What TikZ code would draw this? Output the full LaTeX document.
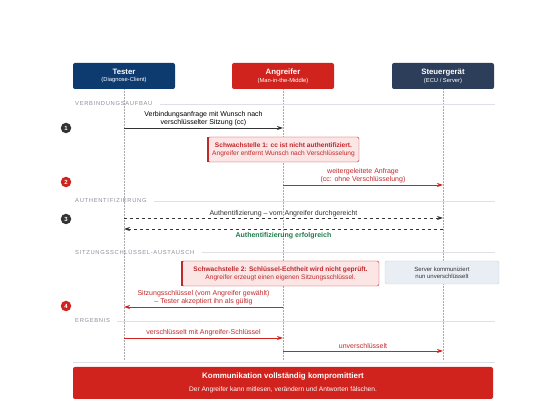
\documentclass[tikz,border=0pt]{standalone}
\usepackage{fontspec}
\setmainfont{Liberation Sans}
\newfontfamily\secfont[LetterSpace=12]{Liberation Sans}
\usetikzlibrary{arrows.meta}

\definecolor{testerblue}{HTML}{0D3B70}
\definecolor{attackred}{HTML}{D0231E}
\definecolor{ecuslate}{HTML}{2C3E5A}
\definecolor{weakfill}{HTML}{FBE5E5}
\definecolor{weakline}{HTML}{C0282B}
\definecolor{sepgray}{HTML}{DDE0E4}
\definecolor{lifegray}{HTML}{A8A8A8}
\definecolor{secgray}{HTML}{8A8F99}
\definecolor{okgreen}{HTML}{1E7A4A}
\definecolor{infofill}{HTML}{E9EEF4}
\definecolor{infoline}{HTML}{C9D1DC}
\definecolor{msgdark}{HTML}{333333}

\begin{document}
\begin{tikzpicture}[x=1pt, y=-1pt,
    actor/.style={rounded corners=2pt, minimum width=102pt, minimum height=26pt,
      align=center, text=white, inner sep=0pt, font=\fontsize{7.8}{8.8}\selectfont\bfseries},
    lifeline/.style={lifegray, densely dotted, line width=0.5pt},
    section/.style={anchor=west, text=secgray, inner sep=0pt, font=\secfont\fontsize{5.8}{6.5}\selectfont},
    sepline/.style={sepgray, line width=0.6pt},
    stepdot/.style={circle, inner sep=0pt, minimum size=10.5pt, text=white,
      font=\fontsize{6}{6}\selectfont\bfseries},
    msg/.style={-{Stealth[length=6pt, width=4pt]}, line width=0.8pt},
    lbl/.style={anchor=south, align=center, inner sep=1pt, font=\fontsize{7}{8}\selectfont},
    weak/.style={draw=weakline, fill=weakfill, rounded corners=1.5pt, align=center,
      text=weakline, font=\fontsize{6.6}{8}\selectfont, inner sep=1.5pt}]

    \useasboundingbox (0,0) rectangle (539,403);

    % teilnehmer
    \node[actor, fill=testerblue] (tester) at (124,76)
      {Tester\\[-1pt]{\fontsize{5.8}{6.5}\selectfont\mdseries (Diagnose-Client)}};
    \node[actor, fill=attackred] (angreifer) at (283,76)
      {Angreifer\\[-1pt]{\fontsize{5.8}{6.5}\selectfont\mdseries (Man-in-the-Middle)}};
    \node[actor, fill=ecuslate] (ecu) at (443,76)
      {Steuergerät\\[-1pt]{\fontsize{5.8}{6.5}\selectfont\mdseries (ECU / Server)}};

    \coordinate (tend) at (124,360);
    \coordinate (aend) at (283,360);
    \coordinate (eend) at (443,360);
    \draw[lifeline] (tester.south) -- (tend);
    \draw[lifeline] (angreifer.south) -- (aend);
    \draw[lifeline] (ecu.south) -- (eend);

    % abschnitte
    \coordinate (rt) at (495,0);
    \node[section] (sec1) at (75,104) {VERBINDUNGSAUFBAU};
    \node[section] (sec2) at (75,201) {AUTHENTIFIZIERUNG};
    \node[section] (sec3) at (75,252) {SITZUNGSSCHLÜSSEL-AUSTAUSCH};
    \node[section] (sec4) at (75,321) {ERGEBNIS};
    \draw[sepline] ([xshift=7pt]sec1.east) -- (sec1.east -| rt);
    \draw[sepline] ([xshift=7pt]sec2.east) -- (sec2.east -| rt);
    \draw[sepline] ([xshift=7pt]sec3.east) -- (sec3.east -| rt);
    \draw[sepline] ([xshift=7pt]sec4.east) -- (sec4.east -| rt);
    \coordinate (bl) at (73,362);
    \draw[sepline, line width=0.4pt] (bl) -- (bl -| rt);

    % schritte
    \node[stepdot, fill=msgdark] (n1) at (66,128) {1};
    \node[stepdot, fill=attackred] (n2) at (66,182) {2};
    \node[stepdot, fill=msgdark] (n3) at (66,219) {3};
    \node[stepdot, fill=attackred] (n4) at (66,306) {4};

    % punkte auf den lebenslinien
    \coordinate (t1) at (124,128);  \coordinate (a1) at (283,128);
    \coordinate (a2) at (283,185);  \coordinate (e2) at (443,185);
    \coordinate (t3) at (124,218);  \coordinate (e3) at (443,218);
    \coordinate (t3r) at (124,229); \coordinate (e3r) at (443,229);
    \coordinate (t4) at (124,307);  \coordinate (a4) at (283,307);
    \coordinate (t5) at (124,338);  \coordinate (a5) at (283,338);
    \coordinate (a6) at (283,351);  \coordinate (e6) at (443,351);

    % 1
    \draw[msg, msgdark] (t1) -- node[lbl, text=black, yshift=1pt]
      {Verbindungsanfrage mit Wunsch nach\\verschlüsselter Sitzung (cc)} (a1);

    \node[weak, minimum width=151pt, minimum height=25pt] (weak1) at (283.5,149.5)
      {\textbf{Schwachstelle 1: cc ist nicht authentifiziert.}\\Angreifer entfernt Wunsch nach Verschlüsselung};
    \draw[weakline, line width=1.6pt] (weak1.north west) -- (weak1.south west);

    % 2
    \draw[msg, attackred] (a2) -- node[lbl, text=weakline, yshift=1pt]
      {weitergeleitete Anfrage\\(cc: ohne Verschlüsselung)} (e2);

    % 3
    \draw[msg, msgdark, dashed] (t3) -- node[lbl]
      {Authentifizierung – vom Angreifer durchgereicht} (e3);
    \draw[msg, msgdark, dashed] (e3r) -- node[lbl, anchor=north, yshift=-2pt, text=okgreen,
      font=\fontsize{7}{8}\selectfont\bfseries] {Authentifizierung erfolgreich} (t3r);

    % 4
    \node[weak, minimum width=197pt, minimum height=25pt] (weak2) at (280.5,273.5)
      {\textbf{Schwachstelle 2: Schlüssel-Echtheit wird nicht geprüft.}\\Angreifer erzeugt einen eigenen Sitzungsschlüssel.};
    \draw[weakline, line width=1.6pt] (weak2.north west) -- (weak2.south west);
    \node[draw=infoline, fill=infofill, rounded corners=2pt, minimum width=114pt,
      minimum height=23pt, align=center, text=msgdark, inner sep=1pt,
      font=\fontsize{6}{7.2}\selectfont] (info) at (442,272.5)
      {Server kommuniziert\\nun unverschlüsselt};

    \draw[msg, attackred] (a4) -- node[lbl, text=weakline, yshift=1pt]
      {Sitzungsschlüssel (vom Angreifer gewählt)\\– Tester akzeptiert ihn als gültig} (t4);

    % ergebnis
    \draw[msg, attackred] (t5) -- node[lbl, text=weakline, yshift=1pt]
      {verschlüsselt mit Angreifer-Schlüssel} (a5);
    \draw[msg, attackred] (a6) -- node[lbl, text=weakline, yshift=1pt]
      {unverschlüsselt} (e6);

    \node[fill=attackred, rounded corners=2pt, minimum width=420pt, minimum height=32pt,
      align=center, text=white, inner sep=0pt] (fazit) at (283,383)
      {{\fontsize{7.9}{9.5}\selectfont\bfseries Kommunikation vollständig kompromittiert}\\[1pt]
       {\fontsize{6.6}{7.5}\selectfont Der Angreifer kann mitlesen, verändern und Antworten fälschen.}};
\end{tikzpicture}
\end{document}
